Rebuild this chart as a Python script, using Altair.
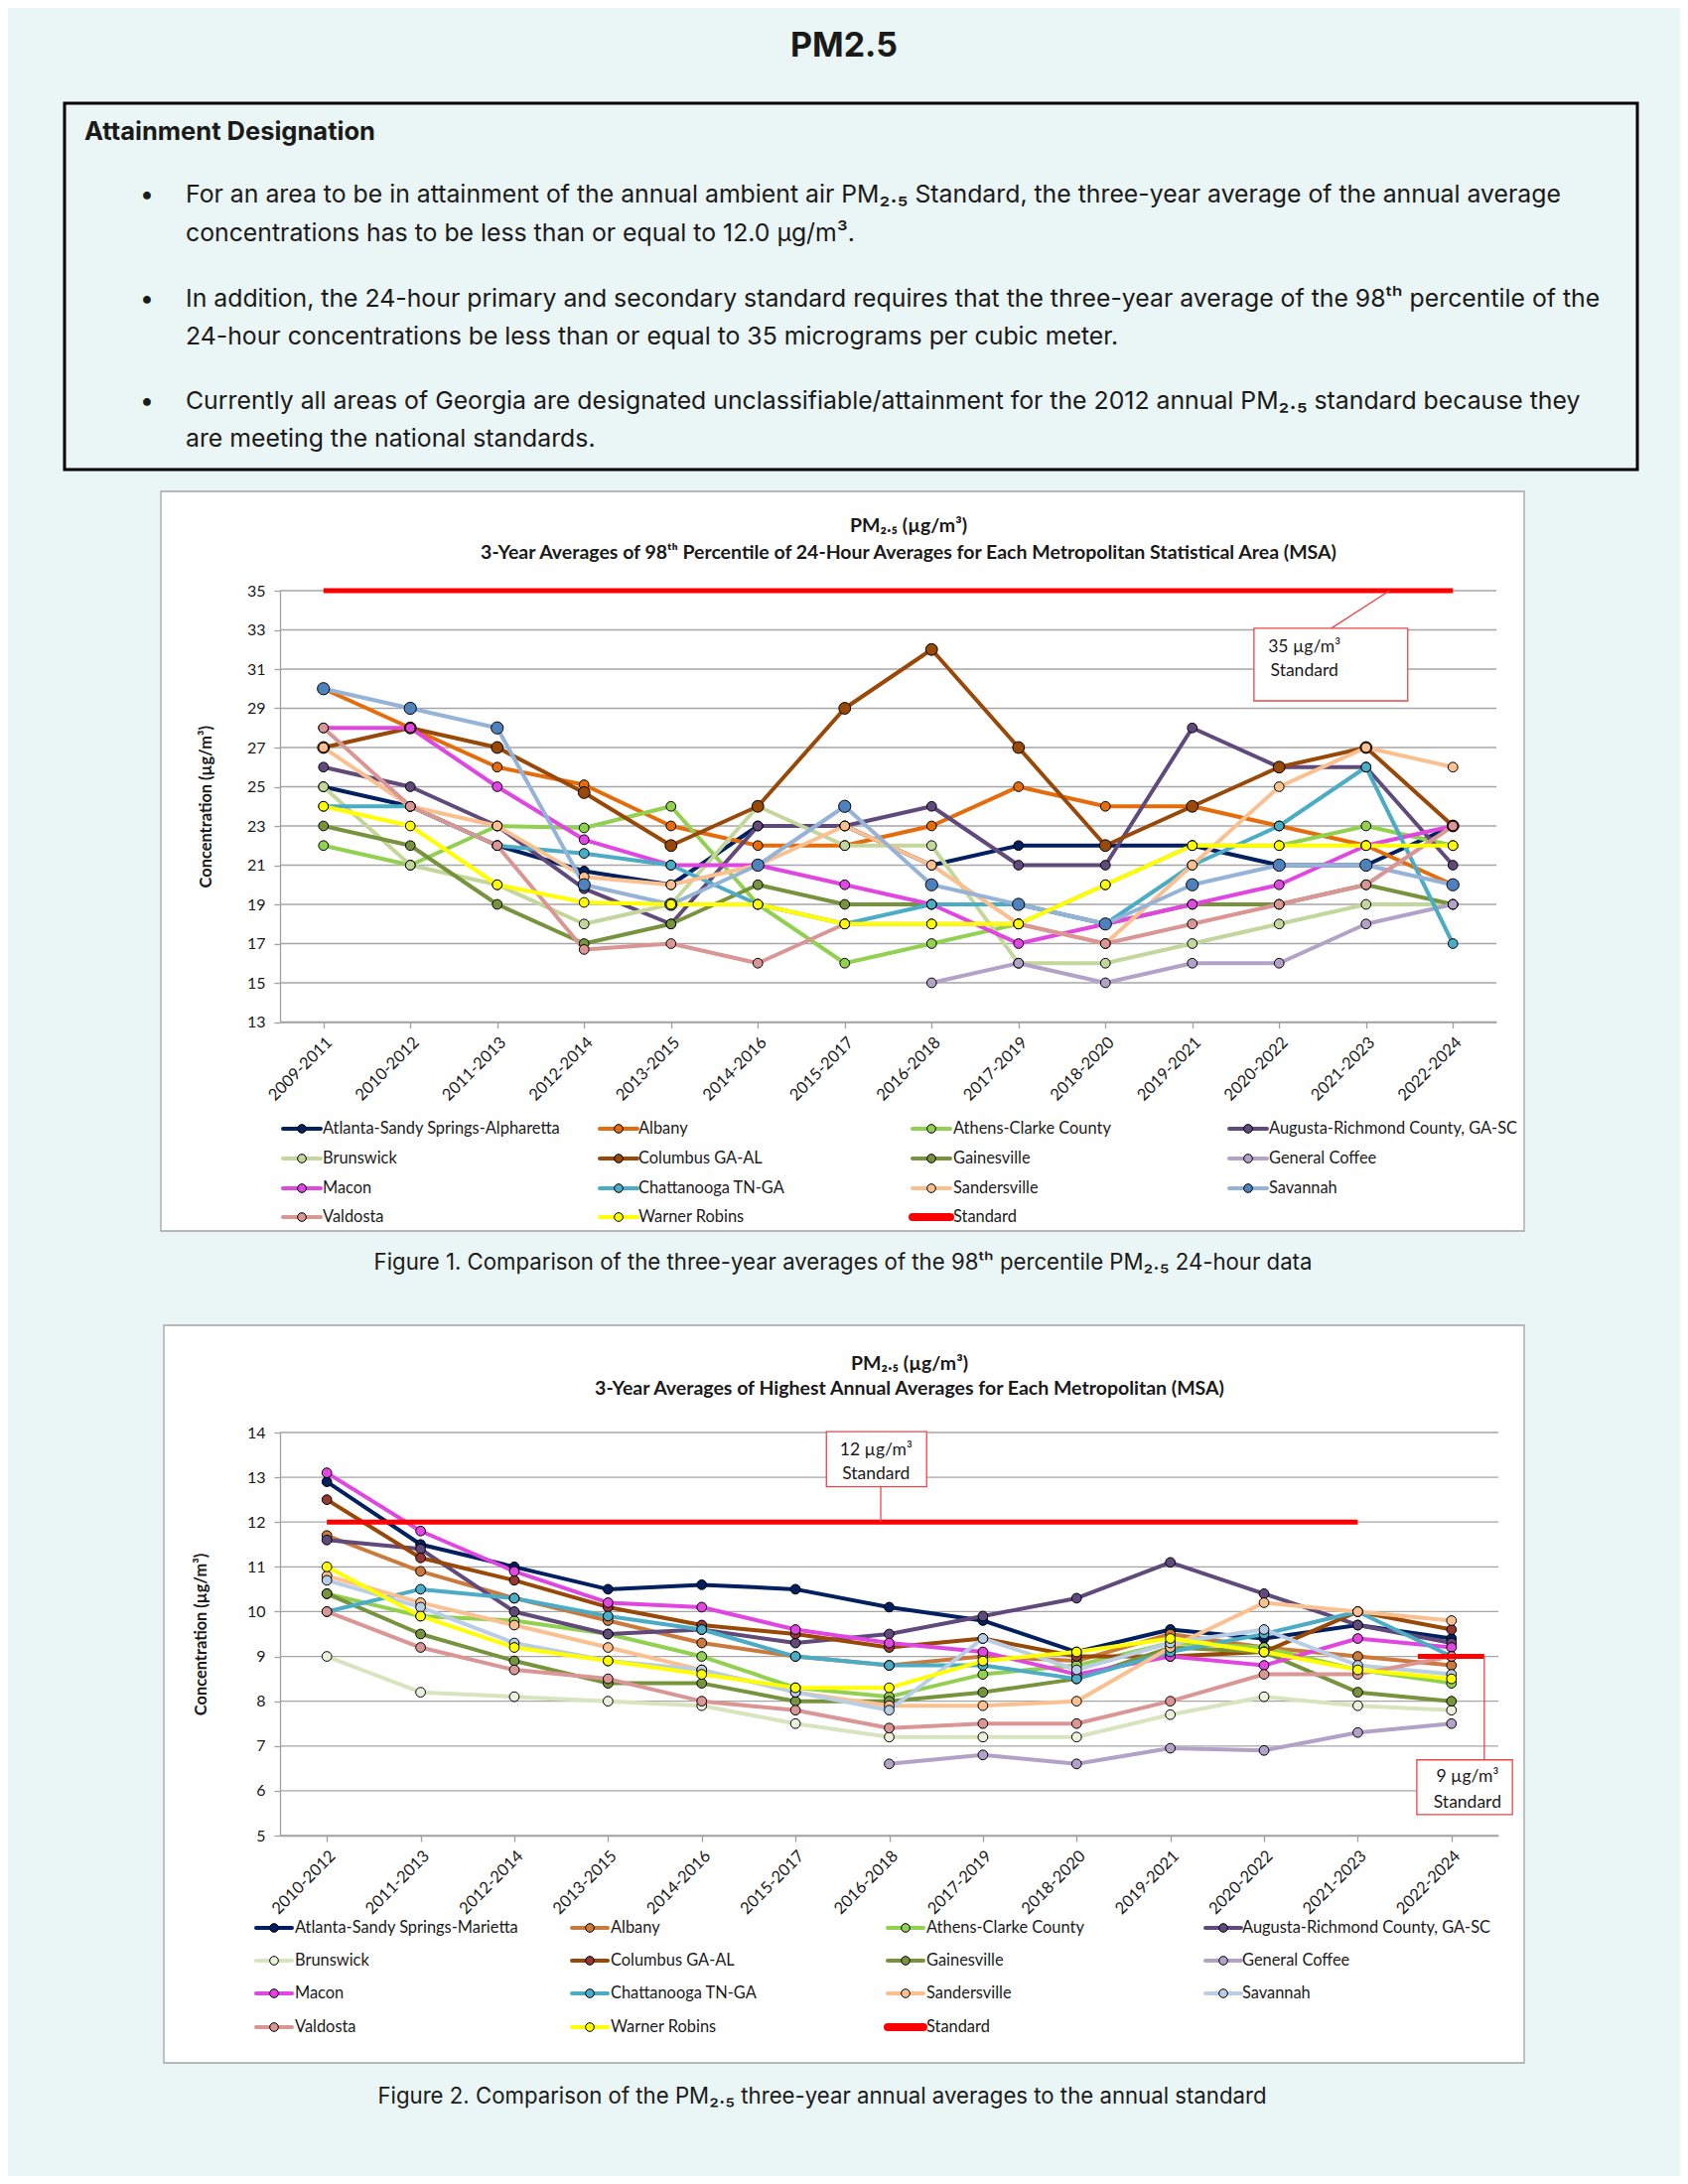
import altair as alt
import pandas as pd

# ---------------- Figure 1: 3-year averages of 98th percentile of 24-hour PM2.5 (ug/m3) ----------------
periods_98th = ["2009-2011", "2010-2012", "2011-2013", "2012-2014", "2013-2015", "2014-2016",
                "2015-2017", "2016-2018", "2017-2019", "2018-2020", "2019-2021", "2020-2022",
                "2021-2023", "2022-2024"]
atlanta_98th      = [25, 24, 22, 20.7, 20, 23, 23, 21, 22, 22, 22, 21, 21, 23]
albany_98th       = [30, 28, 26, 25.1, 23, 22, 22, 23, 25, 24, 24, 23, 22, 20]
athens_98th       = [22, 21, 23, 22.9, 24, 19, 16, 17, 18, 20, 22, 22, 23, 22]
augusta_98th      = [26, 25, 23, 19.8, 18, 23, 23, 24, 21, 21, 28, 26, 26, 21]
brunswick_98th    = [25, 21, 20, 18, 19, 24, 22, 22, 16, 16, 17, 18, 19, 19]
columbus_98th     = [27, 28, 27, 24.7, 22, 24, 29, 32, 27, 22, 24, 26, 27, 23]
gainesville_98th  = [23, 22, 19, 17, 18, 20, 19, 19, 19, 18, 19, 19, 20, 19]
gencoffee_98th    = [None, None, None, None, None, None, None, 15, 16, 15, 16, 16, 18, 19]
macon_98th        = [28, 28, 25, 22.3, 21, 21, 20, 19, 17, 18, 19, 20, 22, 23]
chattanooga_98th  = [24, 24, 22, 21.6, 21, 19, 18, 19, 19, 18, 21, 23, 26, 17]
sandersville_98th = [27, 24, 23, 20.4, 20, 21, 23, 21, 18, 17, 21, 25, 27, 26]
savannah_98th     = [30, 29, 28, 20, 19, 21, 24, 20, 19, 18, 20, 21, 21, 20]
valdosta_98th     = [28, 24, 22, 16.7, 17, 16, 18, 18, 18, 17, 18, 19, 20, 23]
warner_98th       = [24, 23, 20, 19.1, 19, 19, 18, 18, 18, 20, 22, 22, 22, 22]
yticks_98th = [13, 15, 17, 19, 21, 23, 25, 27, 29, 31, 33, 35]
standard_98th = 35

# ---------------- Figure 2: 3-year averages of highest annual averages (ug/m3) ----------------
periods_annual = ["2010-2012", "2011-2013", "2012-2014", "2013-2015", "2014-2016", "2015-2017",
                  "2016-2018", "2017-2019", "2018-2020", "2019-2021", "2020-2022", "2021-2023",
                  "2022-2024"]
atlanta_annual      = [12.9, 11.5, 11.0, 10.5, 10.6, 10.5, 10.1, 9.8, 9.1, 9.6, 9.4, 9.7, 9.4]
albany_annual       = [11.7, 10.9, 10.3, 9.8, 9.3, 9.0, 8.8, 9.0, 8.9, 9.5, 9.2, 9.0, 8.8]
athens_annual       = [10.4, 9.9, 9.8, 9.5, 9.0, 8.3, 8.1, 8.6, 8.8, 9.3, 9.2, 8.7, 8.4]
augusta_annual      = [11.6, 11.4, 10.0, 9.5, 9.6, 9.3, 9.5, 9.9, 10.3, 11.1, 10.4, 9.7, 9.3]
brunswick_annual    = [9.0, 8.2, 8.1, 8.0, 7.9, 7.5, 7.2, 7.2, 7.2, 7.7, 8.1, 7.9, 7.8]
columbus_annual     = [12.5, 11.2, 10.7, 10.1, 9.7, 9.5, 9.2, 9.4, 9.0, 9.0, 9.1, 10.0, 9.6]
gainesville_annual  = [10.4, 9.5, 8.9, 8.4, 8.4, 8.0, 8.0, 8.2, 8.5, 9.2, 9.1, 8.2, 8.0]
gencoffee_annual    = [None, None, None, None, None, None, 6.6, 6.8, 6.6, 6.95, 6.9, 7.3, 7.5]
macon_annual        = [13.1, 11.8, 10.9, 10.2, 10.1, 9.6, 9.3, 9.1, 8.6, 9.0, 8.8, 9.4, 9.2]
chattanooga_annual  = [10.0, 10.5, 10.3, 9.9, 9.6, 9.0, 8.8, 8.8, 8.5, 9.1, 9.5, 10.0, 9.0]
sandersville_annual = [10.8, 10.2, 9.7, 9.2, 8.7, 8.2, 7.9, 7.9, 8.0, 9.2, 10.2, 10.0, 9.8]
savannah_annual     = [10.7, 10.1, 9.3, 8.9, 8.7, 8.2, 7.8, 9.4, 8.7, 9.3, 9.6, 8.8, 8.6]
valdosta_annual     = [10.0, 9.2, 8.7, 8.5, 8.0, 7.8, 7.4, 7.5, 7.5, 8.0, 8.6, 8.6, 9.0]
warner_annual       = [11.0, 9.9, 9.2, 8.9, 8.6, 8.3, 8.3, 8.9, 9.1, 9.4, 9.1, 8.7, 8.5]
yticks_annual = [5, 6, 7, 8, 9, 10, 11, 12, 13, 14]
standard_annual_2012 = 12
standard_annual_2024 = 9

names_98th = ["Atlanta-Sandy Springs-Alpharetta", "Albany", "Athens-Clarke County",
              "Augusta-Richmond County, GA-SC", "Brunswick", "Columbus GA-AL", "Gainesville",
              "General Coffee", "Macon", "Chattanooga TN-GA", "Sandersville", "Savannah",
              "Valdosta", "Warner Robins"]
names_annual = ["Atlanta-Sandy Springs-Marietta"] + names_98th[1:]

values_98th = [atlanta_98th, albany_98th, athens_98th, augusta_98th, brunswick_98th, columbus_98th,
               gainesville_98th, gencoffee_98th, macon_98th, chattanooga_98th, sandersville_98th,
               savannah_98th, valdosta_98th, warner_98th]
values_annual = [atlanta_annual, albany_annual, athens_annual, augusta_annual, brunswick_annual,
                 columbus_annual, gainesville_annual, gencoffee_annual, macon_annual,
                 chattanooga_annual, sandersville_annual, savannah_annual, valdosta_annual,
                 warner_annual]

# ---------------- styles ----------------
PAGE_BG = "#EAF5F5"
CHART_FONT = "Lato"
HEAD_FONT = "Inter"
TXT = "#1a1a1a"
AXIS_COL = "#A0A0A0"
GRID_COL = "#A6A6A6"
RED = "#FF0000"
ANN_RED = "#E8474A"

line_colors_98th = ["#002060", "#E46C0A", "#92D050", "#604A7B", "#C3D69B", "#984807", "#77933C",
                    "#B3A2C7", "#E046E0", "#4BACC6", "#FAC090", "#95B3D7", "#D99694", "#FFFF00"]
marker_colors_98th = ["#002060", "#E46C0A", "#92D050", "#604A7B", "#C3D69B", "#984807", "#77933C",
                      "#B3A2C7", "#E046E0", "#4BACC6", "#FAC090", "#4F81BD", "#D99694", "#FFFF00"]
marker_sizes_98th = [95, 95, 95, 95, 95, 140, 95, 95, 95, 95, 95, 150, 95, 95]

line_colors_annual = ["#002060", "#CC7A3C", "#92D050", "#604A7B", "#D7E4BD", "#984807", "#77933C",
                      "#B3A2C7", "#E046E0", "#4BACC6", "#FAC090", "#B9CDE5", "#D99694", "#FFFF00"]
marker_colors_annual = ["#002060", "#CC7A3C", "#92D050", "#604A7B", "#EBF1DE", "#953735", "#77933C",
                        "#B3A2C7", "#E046E0", "#4BACC6", "#FAC090", "#B9CDE5", "#D99694", "#FFFF00"]
marker_sizes_annual = [95] * 14

TITLE_SIZE = 19.5
LEGEND_SIZE = 16.4
ANN_SIZE = 17.5
XLABEL_SIZE = 16.5
YLABEL_SIZE = 16
YTITLE_SIZE = 16.4
HEAD_BODY_SIZE = 24.8
HEAD_SUB_SIZE = 25.5
CAPTION_SIZE = 22.2


def long_table(names, arrays, lcols, mcols, msizes):
    rows = []
    for k, (nm, vals) in enumerate(zip(names, arrays)):
        for i, v in enumerate(vals):
            if v is not None:
                rows.append({"series": nm, "idx": i, "value": v, "lcolor": lcols[k],
                             "mfill": mcols[k], "msize": msizes[k]})
    return pd.DataFrame(rows)


ONE = pd.DataFrame({"k": [0]})


def vtext(txt, x, y, size, weight="normal", align="center", font=CHART_FONT):
    return alt.Chart(ONE).mark_text(text=txt, font=font, fontSize=size, fontWeight=weight,
                                    align=align, baseline="middle", color=TXT).encode(
        x=alt.value(x), y=alt.value(y))


def vrect(x0, x1, y0, y1, **kw):
    return alt.Chart(ONE).mark_rect(**kw).encode(
        x=alt.value(x0), x2=alt.value(x1), y=alt.value(y0), y2=alt.value(y1))


def build_panel(P):
    periods = P["periods"]
    n = len(periods)
    xs = alt.Scale(domain=[-0.5, n - 0.5], nice=False, zero=False)
    ys = alt.Scale(domain=P["ydomain"], nice=False, zero=False)
    labels_js = "[" + ",".join("'%s'" % p for p in periods) + "]"
    xaxis = alt.Axis(values=list(range(n)), labelExpr=labels_js + "[datum.value]",
                     labelAngle=-45, labelAlign="right", labelBaseline="top", labelPadding=6,
                     labelFont=CHART_FONT, labelFontSize=XLABEL_SIZE, labelColor=TXT, tickSize=6,
                     tickColor=AXIS_COL, tickWidth=1.3, domainColor=AXIS_COL, domainWidth=1.3,
                     grid=False, title=None, zindex=1, labelOverlap=False, labelFlush=False)
    yaxis = alt.Axis(values=P["yticks"], grid=False, title="Concentration (µg/m³)",
                     titleFont=CHART_FONT, titleFontSize=YTITLE_SIZE, titleFontWeight="bold",
                     titleColor=TXT, titlePadding=P["ytitle_pad"], labelFont=CHART_FONT,
                     labelFontSize=YLABEL_SIZE, labelColor=TXT, labelPadding=9, tickSize=6,
                     tickColor=AXIS_COL, tickWidth=1.3, domainColor=AXIS_COL, domainWidth=1.3,
                     zindex=1, labelOverlap=False, labelFlush=False)

    def X(f):
        return alt.X(f, scale=xs, axis=xaxis)

    def Y(f):
        return alt.Y(f, scale=ys, axis=yaxis)

    df = long_table(P["names"], P["values"], P["lcols"], P["mcols"], P["msizes"])

    bg = vrect(*P["bg"], fill=PAGE_BG)
    card = vrect(*P["card"], fill="white", stroke="#A3A3A3", strokeWidth=1.3)
    grid = alt.Chart(pd.DataFrame({"g": P["yticks"]})).mark_rule(
        color=GRID_COL, strokeWidth=1.3).encode(y=Y("g:Q"))
    lines = alt.Chart(df).mark_line(strokeWidth=4, strokeJoin="round").encode(
        x=X("idx:Q"), y=Y("value:Q"), color=alt.Color("lcolor:N", scale=None),
        detail="series:N")
    points = alt.Chart(df).mark_circle(stroke="black", strokeWidth=1, opacity=1).encode(
        x=X("idx:Q"), y=Y("value:Q"), fill=alt.Fill("mfill:N", scale=None),
        size=alt.Size("msize:Q", scale=None))
    std = alt.Chart(pd.DataFrame(P["std"])).mark_rule(color=RED, strokeWidth=5).encode(
        x=X("x0:Q"), x2="x1:Q", y=Y("y:Q"))
    lead = alt.Chart(pd.DataFrame(P["leads"])).mark_rule(color=ANN_RED, strokeWidth=1.3).encode(
        x=X("x0:Q"), x2="x1:Q", y=Y("y0:Q"), y2="y1:Q")
    box = alt.Chart(pd.DataFrame(P["boxes"])).mark_rect(
        fill="white", stroke=ANN_RED, strokeWidth=1.3).encode(
        x=X("x0:Q"), x2="x1:Q", y=Y("y0:Q"), y2="y1:Q")
    btxt = alt.Chart(pd.DataFrame(P["btexts"])).mark_text(
        font=CHART_FONT, fontSize=ANN_SIZE, color=TXT, baseline="middle").encode(
        x=X("x:Q"), y=Y("y:Q"), text="t:N")

    # legend (drawn as marks below the plot)
    L = P["leg_len"]
    leg = []
    entries = list(zip(P["names"], P["lcols"], P["mcols"])) + [("Standard", RED, None)]
    for i, (nm, lc, mc) in enumerate(entries):
        c, r = i % 4, i // 4
        x0 = P["leg_sym_x"][c]
        leg.append({"label": nm, "sx0": x0, "sx1": x0 + L, "mx": x0 + L / 2,
                    "tx": P["leg_txt_x"][c], "ly": P["leg_row_y"][r], "lcolor": lc,
                    "mfill": mc if mc else "none", "lw": 4 if mc else 8,
                    "hasm": 1 if mc else 0})
    ldf = pd.DataFrame(leg)
    leg_lines = alt.Chart(ldf).mark_rule(strokeCap="round").encode(
        x=alt.X("sx0:Q", scale=None), x2="sx1:Q", y=alt.Y("ly:Q", scale=None),
        color=alt.Color("lcolor:N", scale=None), strokeWidth=alt.StrokeWidth("lw:Q", scale=None))
    leg_pts = alt.Chart(ldf[ldf["hasm"] == 1]).mark_circle(
        stroke="black", strokeWidth=1, opacity=1, size=75).encode(
        x=alt.X("mx:Q", scale=None), y=alt.Y("ly:Q", scale=None),
        fill=alt.Fill("mfill:N", scale=None))
    leg_txt = alt.Chart(ldf).mark_text(align="left", baseline="middle", font=CHART_FONT,
                                       fontSize=LEGEND_SIZE, color=TXT).encode(
        x=alt.X("tx:Q", scale=None), y=alt.Y("ly:Q", scale=None), text="label:N")

    t1 = vtext(P["title1"], P["title_x"], P["title_y"][0], TITLE_SIZE, "bold")
    t2 = vtext(P["title2"], P["title_x"], P["title_y"][1], TITLE_SIZE, "bold")
    cap = vtext(P["caption"], P["caption_xy"][0], P["caption_xy"][1], CAPTION_SIZE, font=HEAD_FONT)

    return alt.layer(bg, card, grid, lines, points, std, lead, box, btxt,
                     leg_lines, leg_pts, leg_txt, t1, t2, cap).properties(
        width=P["W"], height=P["H"])


# All three blocks share a common horizontal origin (the left edge of the plot areas).
n1 = len(periods_98th)
panel1 = build_panel(dict(
    periods=periods_98th, names=names_98th, values=values_98th,
    lcols=line_colors_98th, mcols=marker_colors_98th, msizes=marker_sizes_98th,
    ydomain=[13, 35], yticks=yticks_98th, ytitle_pad=33, W=1225, H=434.5,
    bg=(-274, 1410, -115, 705), card=(-120, 1253, -100, 645),
    std=[{"x0": 0, "x1": n1 - 1, "y": standard_98th}],
    leads=[{"x0": 11.6, "x1": 12.27, "y0": 33.08, "y1": standard_98th}],
    boxes=[{"x0": 10.71, "x1": 12.48, "y0": 29.38, "y1": 33.08}],
    btexts=[{"x": 11.29, "y": 32.11, "t": "35 µg/m³"}, {"x": 11.29, "y": 30.9, "t": "Standard"}],
    leg_len=38, leg_sym_x=[3, 322, 637, 956], leg_txt_x=[43, 361, 678, 996],
    leg_row_y=[542, 572, 602, 631],
    title1="PM₂.₅ (µg/m³)",
    title2="3-Year Averages of 98ᵗʰ Percentile of 24-Hour Averages for Each Metropolitan Statistical Area (MSA)",
    title_x=633, title_y=(-65, -38),
    caption="Figure 1. Comparison of the three-year averages of the 98ᵗʰ percentile PM₂.₅ 24-hour data",
    caption_xy=(567, 677),
))

n2 = len(periods_annual)
panel2 = build_panel(dict(
    periods=periods_annual, names=names_annual, values=values_annual,
    lcols=line_colors_annual, mcols=marker_colors_annual, msizes=marker_sizes_annual,
    ydomain=[5, 14], yticks=yticks_annual, ytitle_pad=38, W=1227, H=406,
    bg=(-274, 1410, -143, 749), card=(-117, 1253, -108, 635),
    std=[{"x0": 0, "x1": n2 - 2, "y": standard_annual_2012},
         {"x0": n2 - 1 - 0.36, "x1": n2 - 1 + 0.35, "y": standard_annual_2024}],
    leads=[{"x0": 5.91, "x1": 5.91, "y0": 12.79, "y1": standard_annual_2012},
           {"x0": 12.35, "x1": 12.35, "y0": standard_annual_2024, "y1": 6.69}],
    boxes=[{"x0": 5.33, "x1": 6.40, "y0": 12.79, "y1": 14.02},
           {"x0": 11.63, "x1": 12.65, "y0": 5.47, "y1": 6.69}],
    btexts=[{"x": 5.86, "y": 13.59, "t": "12 µg/m³"}, {"x": 5.86, "y": 13.08, "t": "Standard"},
            {"x": 12.17, "y": 6.30, "t": "9 µg/m³"}, {"x": 12.17, "y": 5.74, "t": "Standard"}],
    leg_len=36, leg_sym_x=[-24, 294, 612, 932], leg_txt_x=[15, 333, 651, 969],
    leg_row_y=[499, 532, 565, 599],
    title1="PM₂.₅ (µg/m³)",
    title2="3-Year Averages of Highest Annual Averages for Each Metropolitan (MSA)",
    title_x=634, title_y=(-69, -44),
    caption="Figure 2. Comparison of the PM₂.₅ three-year annual averages to the annual standard",
    caption_xy=(546, 669),
))

# ---------------- header ----------------
header_lines = [
    "For an area to be in attainment of the annual ambient air PM₂.₅ Standard, the three-year average of the annual average",
    "concentrations has to be less than or equal to 12.0 µg/m³.",
    "In addition, the 24-hour primary and secondary standard requires that the three-year average of the 98ᵗʰ percentile of the",
    "24-hour concentrations be less than or equal to 35 micrograms per cubic meter.",
    "Currently all areas of Georgia are designated unclassifiable/attainment for the 2012 annual PM₂.₅ standard because they",
    "are meeting the national standards.",
]
line_y = [189, 228, 294, 332, 397, 435]
bullet_rows = [0, 2, 4]

hdr_layers = [
    vrect(-274, 1410, 0, 472, fill=PAGE_BG),
    vrect(-217, 1367, 96, 465, fill="transparent", stroke="black", strokeWidth=3),
    vtext("PM2.5", 568, 39, 34, "bold", font=HEAD_FONT),
    vtext("Attainment Designation", -197, 125, HEAD_SUB_SIZE, "bold", align="left", font=HEAD_FONT),
]
for i, (t, y) in enumerate(zip(header_lines, line_y)):
    hdr_layers.append(vtext(t, -95, y, HEAD_BODY_SIZE, align="left", font=HEAD_FONT))
    if i in bullet_rows:
        hdr_layers.append(vtext("•", -141, y, HEAD_BODY_SIZE, align="left", font=HEAD_FONT))
header = alt.layer(*hdr_layers).properties(width=1128, height=472)

chart = alt.vconcat(header, panel1, panel2, spacing=0).properties(
    background=PAGE_BG, padding=0).configure_view(stroke=None)

chart.save("out.html", embed_options={"renderer": "svg", "actions": False})
